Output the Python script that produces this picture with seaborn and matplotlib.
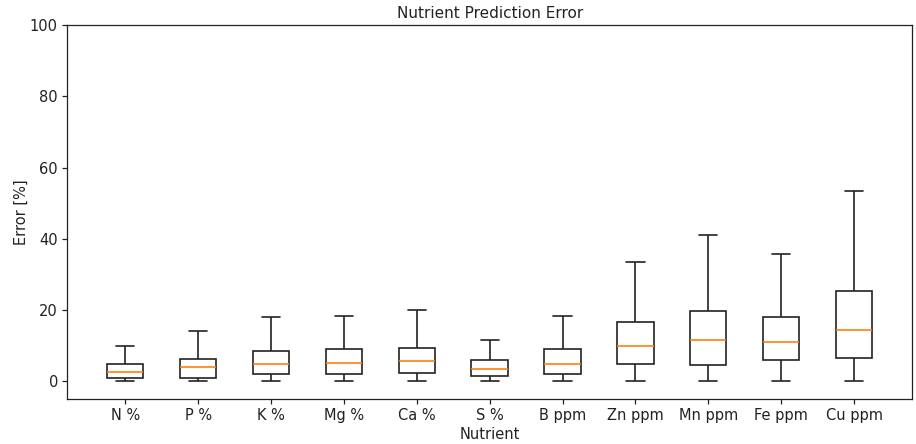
import numpy as np
import pandas as pd
import matplotlib
matplotlib.use("Agg")
import matplotlib.pyplot as plt
import seaborn as sns

# Five-number summaries of prediction error (%) per nutrient
nutrients = ["N %", "P %", "K %", "Mg %", "Ca %", "S %",
             "B ppm", "Zn ppm", "Mn ppm", "Fe ppm", "Cu ppm"]
err_min = [0.0, 0.0, 0.0, 0.0, 0.0, 0.0, 0.0, 0.0, 0.0, 0.0, 0.0]
err_q1 = [1.1, 1.0, 2.2, 2.1, 2.5, 1.5, 2.2, 5.0, 4.5, 5.9, 6.6]
err_median = [2.6, 4.1, 4.9, 5.1, 5.8, 3.5, 4.9, 9.9, 11.5, 11.0, 14.3]
err_q3 = [4.8, 6.3, 8.5, 9.1, 9.5, 6.0, 9.1, 16.6, 19.9, 18.0, 25.4]
err_max = [9.9, 14.1, 18.0, 18.3, 20.0, 11.6, 18.3, 33.6, 41.0, 35.7, 53.5]

rows = []
for i, name in enumerate(nutrients):
    for v in (err_min[i], err_q1[i], err_median[i], err_q3[i], err_max[i]):
        rows.append({"Nutrient": name, "Error": v})
df = pd.DataFrame(rows)

sns.set_style("ticks")
plt.rcParams["font.family"] = ["DejaVu Sans"]

fig = plt.figure(figsize=(9.16, 4.44), dpi=100)
ax = fig.add_axes([0.0731, 0.1007, 0.9229, 0.843])

sns.boxplot(
    data=df, x="Nutrient", y="Error", order=nutrients, ax=ax,
    color="white", linecolor="#222222", linewidth=1.2, width=0.5,
    whis=(0, 100), showfliers=False,
    medianprops=dict(color="#ff7f0e", linewidth=1.2),
)

ax.set_ylim(-5, 100)
ax.set_xlim(-0.8, 10.8)
ax.set_yticks([0, 20, 40, 60, 80, 100])
ax.set_title("Nutrient Prediction Error", fontsize=11, color="#222222", pad=5)
ax.set_xlabel("Nutrient", fontsize=10.5, color="#222222", labelpad=3)
ax.set_ylabel("Error [%]", fontsize=10.5, color="#222222", labelpad=1)
ax.tick_params(labelsize=10.5, colors="#222222", length=3.5, width=0.9, pad=3)
for s in ax.spines.values():
    s.set_visible(True)
    s.set_color("#222222")
    s.set_linewidth(0.9)

fig.savefig("out.png", dpi=100, facecolor="white")
